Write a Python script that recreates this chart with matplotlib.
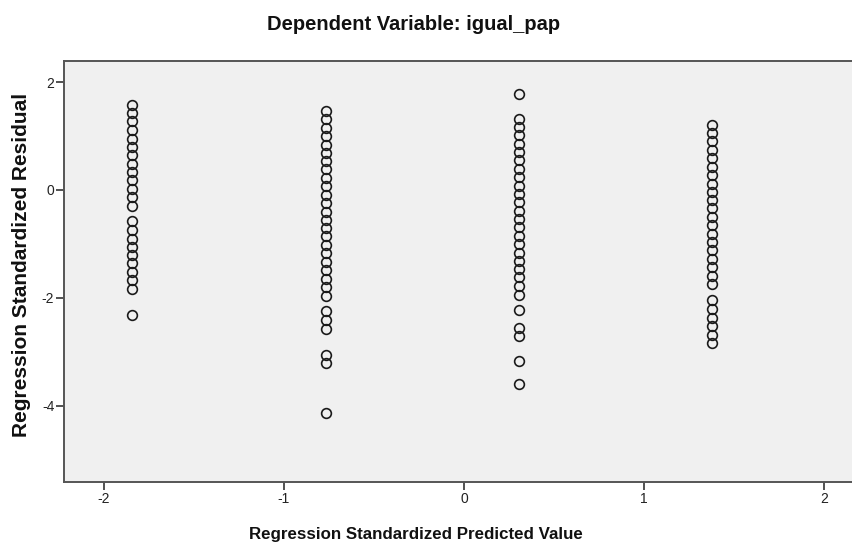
import numpy as np
import matplotlib
matplotlib.use("Agg")
import matplotlib.pyplot as plt

plt.rcParams['font.family'] = ['Liberation Sans', 'DejaVu Sans']
plt.rcParams['axes.unicode_minus'] = False

# standardized predicted value of each group (x) and its residuals (y)
pred_values = [-1.844, -0.768, 0.306, 1.380]

resid_g1 = [1.58, 1.43, 1.27, 1.12, 0.95, 0.80, 0.64, 0.48, 0.33, 0.18, 0.02,
            -0.13, -0.29, -0.58, -0.74, -0.90, -1.05, -1.21, -1.36, -1.51,
            -1.67, -1.84, -2.31]
resid_g2 = [1.46, 1.31, 1.15, 1.00, 0.84, 0.69, 0.53, 0.38, 0.22, 0.07, -0.09,
            -0.24, -0.40, -0.55, -0.71, -0.86, -1.02, -1.17, -1.33, -1.48,
            -1.64, -1.79, -1.97, -2.24, -2.41, -2.58, -3.05, -3.21, -4.13]
resid_g3 = [1.77, 1.32, 1.17, 1.01, 0.86, 0.70, 0.55, 0.39, 0.24, 0.08, -0.07,
            -0.23, -0.38, -0.54, -0.69, -0.85, -1.00, -1.16, -1.31, -1.47,
            -1.62, -1.78, -1.94, -2.23, -2.55, -2.71, -3.17, -3.60]
resid_g4 = [1.21, 1.05, 0.90, 0.74, 0.59, 0.43, 0.28, 0.12, -0.03, -0.19,
            -0.34, -0.50, -0.65, -0.81, -0.97, -1.12, -1.28, -1.43, -1.59,
            -1.75, -2.04, -2.21, -2.37, -2.52, -2.68, -2.83]
residuals = [resid_g1, resid_g2, resid_g3, resid_g4]

x_ticks = [-2, -1, 0, 1, 2]
y_ticks = [-4, -2, 0, 2]

fig = plt.figure(figsize=(8.53, 5.49), dpi=100)
ax = fig.add_axes([64 / 853, 1 - 482 / 549, 1 - 64 / 853, 421 / 549])
ax.set_facecolor('#f0f0f0')

for xv, ys in zip(pred_values, residuals):
    ax.plot([xv] * len(ys), ys, linestyle='none', marker='o', markersize=7,
            markerfacecolor='none', markeredgecolor='#1a1a1a', markeredgewidth=1.2)

ax.set_xlim(-2.222, 2.161)
ax.set_ylim(-5.41, 2.39)
ax.set_xticks(x_ticks)
ax.set_yticks(y_ticks)
ax.tick_params(direction='out', length=5.5, width=1.2, color='#333333',
               labelsize=10, labelcolor='#222222', pad=1.5)
for side in ['left', 'bottom', 'top']:
    ax.spines[side].set_color('#555555')
    ax.spines[side].set_linewidth(1.4)
ax.spines['right'].set_visible(False)

fig.text(414 / 853, 1 - 24 / 549, 'Dependent Variable: igual_pap',
         ha='center', va='center', fontsize=14.5, fontweight='bold', color='#111111')
fig.text(416 / 853, 1 - 535 / 549, 'Regression Standardized Predicted Value',
         ha='center', va='center', fontsize=12.2, fontweight='bold', color='#111111')
fig.text(22 / 853, 1 - 265 / 549, 'Regression Standardized Residual',
         ha='center', va='center', rotation=90, fontsize=15, fontweight='bold',
         color='#111111')

fig.savefig('out.png', dpi=100, facecolor='white')
